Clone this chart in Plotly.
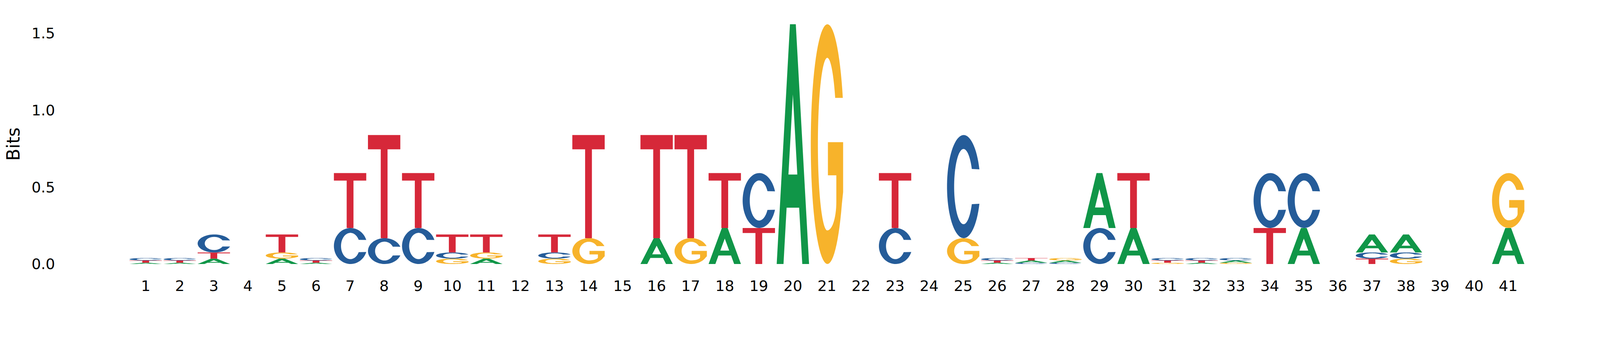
import numpy as np
import plotly.graph_objects as go

# ---------------- data ----------------
positions = list(range(1, 42))
tick_labels = [str(p) for p in positions]
y_tick_vals = [0.0, 0.5, 1.0, 1.5]
y_tick_text = ["0.0", "0.5", "1.0", "1.5"]

# information content (bits) per nucleotide, positions 1..41
A = [0.0085, 0.0085, 0.035, 0, 0.035, 0.0085, 0, 0, 0, 0,
     0.035, 0, 0, 0, 0, 0.168, 0, 0.234, 0, 1.558,
     0, 0, 0, 0, 0, 0.0085, 0.0145, 0.0145, 0.357, 0.234,
     0, 0.0085, 0.0145, 0, 0.234, 0, 0.117, 0.117, 0, 0,
     0.234]
C = [0.016, 0.016, 0.117, 0, 0, 0.016, 0.234, 0.168, 0.234, 0.040,
     0, 0, 0.040, 0, 0, 0, 0, 0, 0.357, 0,
     0, 0, 0.234, 0, 0.670, 0.016, 0.0085, 0.0085, 0.234, 0,
     0.016, 0.016, 0.016, 0.357, 0.357, 0, 0.040, 0.040, 0, 0,
     0]
G = [0, 0, 0, 0, 0.040, 0, 0, 0, 0, 0.035,
     0.040, 0, 0.035, 0.168, 0, 0, 0.168, 0, 0, 0,
     1.558, 0, 0, 0, 0.168, 0, 0, 0.016, 0, 0,
     0.0085, 0, 0.0085, 0, 0, 0, 0, 0.035, 0, 0,
     0.357]
T = [0.0145, 0.0145, 0.040, 0, 0.117, 0.0145, 0.357, 0.670, 0.357, 0.117,
     0.117, 0, 0.117, 0.670, 0, 0.670, 0.670, 0.357, 0.234, 0,
     0, 0, 0.357, 0, 0, 0.0145, 0.016, 0, 0, 0.357,
     0.0145, 0.0145, 0, 0.234, 0, 0, 0.035, 0, 0, 0,
     0]

letter_names = ["A", "C", "G", "T"]
letter_values = {"A": A, "C": C, "G": G, "T": T}
colors = {"A": "#109648", "C": "#255C99", "G": "#F7B32B", "T": "#D62839"}

# ---------------- glyph outlines (unit box) ----------------
def arc(cx, cy, rx, ry, t0, t1, n=48):
    t = np.radians(np.linspace(t0, t1, n))
    return list(zip(cx + rx * np.cos(t), cy + ry * np.sin(t)))

def glyph(letter):
    if letter == "T":
        return [[(0, 1), (1, 1), (1, 0.862), (0.605, 0.862), (0.605, 0),
                 (0.395, 0), (0.395, 0.862), (0, 0.862)]]
    if letter == "A":
        s = 0.41
        outer = [(0, 0), (s, 1), (1 - s, 1), (1, 0), (0.79, 0),
                 (0.79 - s * 0.235, 0.235), (0.21 + s * 0.235, 0.235), (0.21, 0)]
        ytop = (0.58) / (2 * s)
        hole = [(0.21 + s * 0.373, 0.373), (0.79 - s * 0.373, 0.373), (0.5, ytop)]
        return [outer, hole]
    if letter == "C":
        outer = arc(0.515, 0.5, 0.515, 0.5, 19.5, 340.5, 70)
        inner = arc(0.51, 0.5, 0.29, 0.365, 332.1, 27.9, 60)
        return [outer + inner]
    if letter == "G":
        outer = arc(0.515, 0.5, 0.515, 0.5, 22.7, 330, 70)
        mid = [(1.0, 0.30), (1.0, 0.508), (0.53, 0.508), (0.53, 0.37),
               (0.79, 0.37), (0.79, 0.26)]
        low = arc(0.51, 0.26, 0.28, 0.12, 0, -90, 16)
        inner = arc(0.51, 0.5, 0.29, 0.36, 270, 32.4, 60)
        return [outer + mid + low + inner]

GLYPHS = {l: glyph(l) for l in letter_names}
WIDTH = 0.95

def glyph_path(letter, xc, y0, h):
    parts = []
    for poly in GLYPHS[letter]:
        pts = [(xc - WIDTH / 2 + WIDTH * ux, y0 + h * uy) for ux, uy in poly]
        parts.append("M " + " L ".join(f"{px:.5f},{py:.6f}" for px, py in pts) + " Z")
    return " ".join(parts)

shapes = []
for i, pos in enumerate(positions):
    stack = sorted([(letter_values[l][i], l) for l in letter_names if letter_values[l][i] > 0])
    base = 0.0
    for h, l in stack:
        shapes.append(dict(type="path", xref="x", yref="y", path=glyph_path(l, pos, base, h),
                           fillcolor=colors[l], line=dict(width=0), layer="above"))
        base += h

# ---------------- layout ----------------
# the viewing page is 4096 css px wide; the photo is scaled up to 4500 px wide
S = 4096 / 4500
FONT = "DejaVu Sans"
W, H = 4096, 900
ml = round(173 * S)
mt = round(59 * S)
mr = round(100 * S)
mb = H - mt - round(673 * S)
px_per_pos = 95.8 * S
x0 = positions[0] - (401 * S - ml) / px_per_pos
x1 = x0 + (W - ml - mr) / px_per_pos

fig = go.Figure()
fig.update_layout(
    width=W, height=H,
    margin=dict(l=ml, r=mr, t=mt, b=mb, pad=0),
    paper_bgcolor="white", plot_bgcolor="white",
    shapes=shapes,
    showlegend=False,
    font=dict(family=FONT, color="black"),
    xaxis=dict(range=[x0, x1], tickmode="array", tickvals=positions, ticktext=tick_labels,
               showgrid=False, zeroline=False, showline=False, ticks="",
               tickfont=dict(family=FONT, size=41.7 * S, color="black"),
               ticklabelstandoff=round(33 * S), fixedrange=True),
    yaxis=dict(range=[0, 1.558], tickmode="array", tickvals=y_tick_vals, ticktext=y_tick_text,
               showgrid=False, zeroline=False, showline=False, ticks="",
               tickfont=dict(family=FONT, size=41.7 * S, color="black"),
               ticklabelstandoff=round(25 * S),
               title=dict(text="Bits", font=dict(family=FONT, size=50 * S, color="black"),
                          standoff=round(18 * S)),
               fixedrange=True),
)
fig.write_html("out.html")
